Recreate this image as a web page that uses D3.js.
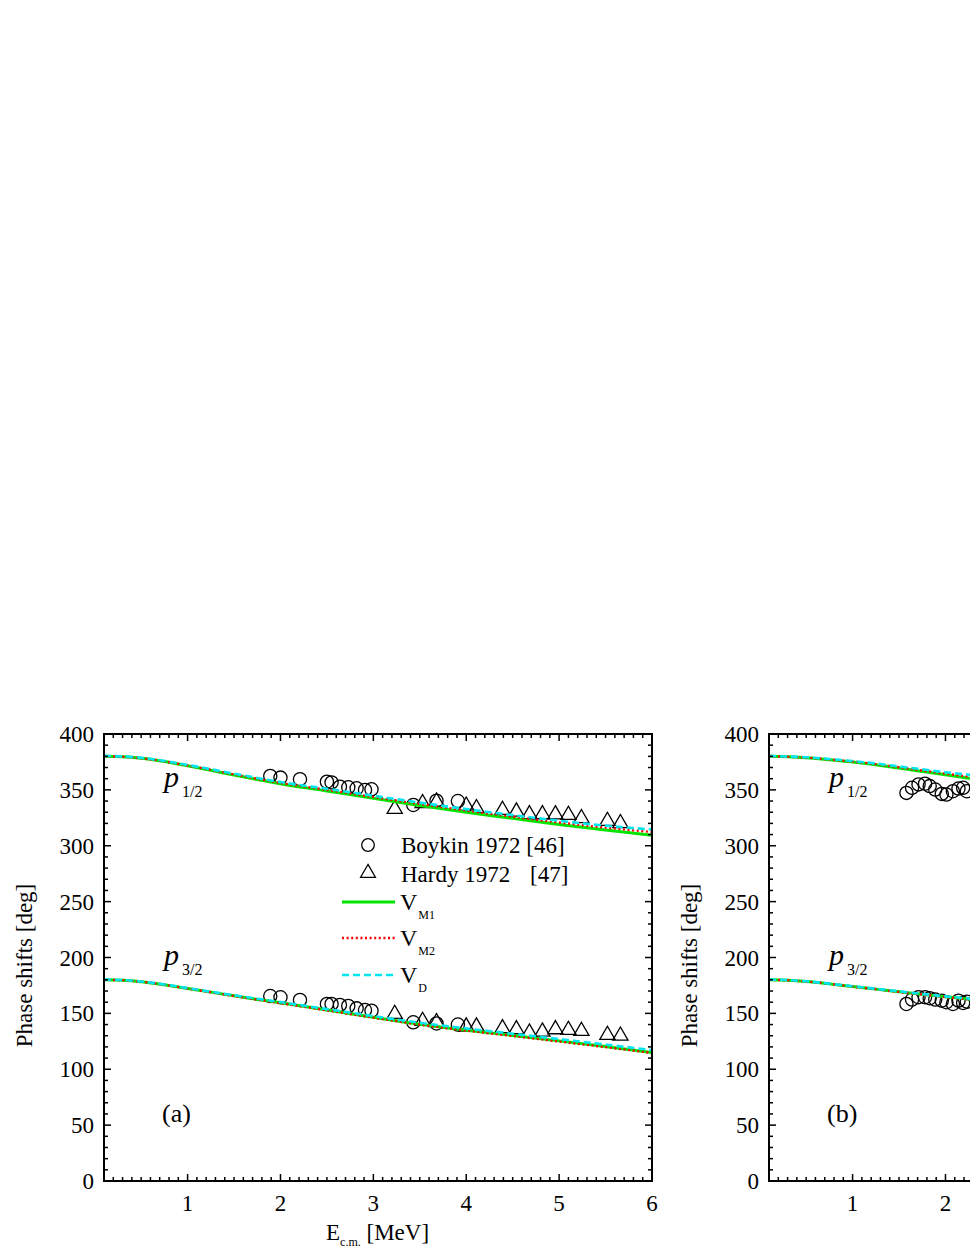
<!DOCTYPE html>
<html><head><meta charset="utf-8">
<script src="https://cdn.jsdelivr.net/npm/d3@7"></script>
<style>html,body{margin:0;padding:0;background:#fff;overflow:hidden}svg{display:block}text{font-family:"Liberation Serif","Times New Roman",serif;fill:#000}</style>
</head><body>
<svg id="chart" width="970" height="1255"></svg>
<script>
// ---------- data ----------
const xTicks = [1, 2, 3, 4, 5, 6];
const yTicks = [0, 50, 100, 150, 200, 250, 300, 350, 400];
const legendLabels = ["Boykin 1972 [46]", "Hardy 1972", "[47]", "M1", "M2", "D"];

// panel (a) model curves
const eCurveA = [0.1, 0.3, 0.5, 0.75, 1, 1.25, 1.5, 1.75, 2, 2.5, 3, 3.5, 4, 4.5, 5, 5.5, 6];
const aP12_VM1 = [380, 379.6, 378.2, 375.3, 371.5, 367.5, 363.3, 359.3, 355.5, 349, 342.5, 336, 330, 324.5, 319, 314, 309.5];
const aP12_VM2 = [380, 379.6, 378.3, 375.5, 371.8, 367.9, 363.8, 359.9, 356.2, 350, 343.6, 337.4, 331.5, 326, 320.8, 316.2, 312.3];
const aP12_VD  = [380.4, 379.9, 378.7, 375.9, 372.3, 368.5, 364.5, 360.7, 357, 351, 344.8, 338.6, 332.8, 327.4, 322.4, 318, 314.5];
const aP32_VM1 = [180, 179.6, 178.3, 175.6, 172.3, 169, 165.7, 162.5, 159.5, 153, 146.5, 140.3, 135, 130.3, 125.4, 120.3, 115];
const aP32_VM2 = [180, 179.6, 178.3, 175.6, 172.2, 168.9, 165.5, 162.3, 159.2, 152.7, 146.2, 140, 134.6, 129.8, 124.8, 119.8, 114.6];
const aP32_VD  = [180.3, 179.8, 178.5, 175.9, 172.6, 169.4, 166.2, 163.1, 160.1, 153.8, 147.6, 141.6, 136.5, 131.8, 127, 122.1, 117.2];

// panel (a) data
const boykinE    = [1.89, 2.0, 2.21, 2.50, 2.55, 2.64, 2.73, 2.82, 2.91, 2.98, 3.43, 3.68, 3.91];
const boykinP12  = [362.5, 361, 359.6, 357.3, 356.7, 352.8, 352.3, 351.4, 349.9, 350.5, 336.5, 340.3, 340];
const boykinP32  = [165.5, 164.4, 162, 158.4, 158.4, 157.5, 156.6, 154.5, 153, 152.4, 142, 141, 140];
const hardyE     = [3.23, 3.53, 3.68, 4.0, 4.11, 4.39, 4.54, 4.68, 4.82, 4.96, 5.1, 5.24, 5.52, 5.66];
const hardyP12   = [332.9, 338, 339.4, 335.8, 333.5, 332, 330.5, 328.1, 328.1, 328, 327.5, 324.6, 322.1, 320.1];
const hardyP32   = [149.4, 143.2, 142, 138.1, 138.1, 136.6, 135.7, 132.7, 133.6, 135.7, 135.1, 134.2, 130.6, 130];

// panel (b) model curves
const eCurveB = [0.1, 0.3, 0.5, 0.75, 1, 1.25, 1.5, 1.75, 2, 2.25, 2.5];
const bP12_VM1 = [380, 379.6, 378.8, 377, 375, 372.5, 369.5, 366.5, 363.5, 360.5, 357.5];
const bP12_VM2 = [380, 379.6, 378.9, 377.2, 375.3, 373, 370.2, 367.3, 364.5, 361.8, 359];
const bP12_VD  = [380.3, 379.9, 379.2, 377.6, 375.8, 373.6, 371, 368.4, 365.8, 363.6, 361.2];
const bP32_VM1 = [180, 179.6, 178.5, 176.4, 174, 171.7, 169.3, 167, 164.8, 162.8, 161];
const bP32_VM2 = [180, 179.6, 178.5, 176.4, 174, 171.6, 169.2, 166.9, 164.6, 162.6, 160.8];
const bP32_VD  = [180.2, 179.8, 178.7, 176.6, 174.3, 172, 169.7, 167.4, 165.2, 163.3, 161.5];

// panel (b) data (visible part)
const bDataE   = [1.58, 1.64, 1.71, 1.78, 1.83, 1.89, 1.96, 2.01, 2.08, 2.14, 2.19, 2.23];
const bDataP12 = [347.3, 351.9, 354.9, 355.5, 353.4, 350.3, 346.4, 345.8, 348.8, 351.2, 351.9, 348.8];
const bDataP32 = [158.4, 162.4, 164.5, 164.5, 163.6, 162.4, 161.4, 160, 158.4, 161.4, 159.3, 160.5];

// ---------- drawing ----------
const svg = d3.select("#chart");
const plotTop = 734, plotBottom = 1181, plotW = 548, viewW = 970;
const FS = 23;

const colM1 = "#00e600", colM2 = "#ff0000", colD = "#00e5f0";

function drawPanel(left, opt) {
  const x = d3.scaleLinear().domain([0.1, 6]).range([left, left + plotW]);
  const y = d3.scaleLinear().domain([0, 400]).range([plotBottom, plotTop]);
  const g = svg.append("g");
  const clipId = "clip" + opt.tag;
  svg.append("clipPath").attr("id", clipId).append("rect")
    .attr("x", left).attr("y", plotTop).attr("width", plotW).attr("height", plotBottom - plotTop);
  const pg = g.append("g").attr("clip-path", `url(#${clipId})`);

  // markers
  const circ = (E, V) => pg.append("g").selectAll("circle").data(E.map((e, i) => [e, V[i]])).join("circle")
    .attr("cx", d => x(d[0])).attr("cy", d => y(d[1])).attr("r", 6.6)
    .attr("fill", "none").attr("stroke", "#000").attr("stroke-width", 1.3);
  const tri = (E, V) => pg.append("g").selectAll("path").data(E.map((e, i) => [e, V[i]])).join("path")
    .attr("d", d3.symbol(d3.symbolTriangle, 100))
    .attr("transform", d => `translate(${x(d[0])},${y(d[1])})`)
    .attr("fill", "none").attr("stroke", "#000").attr("stroke-width", 1.3);
  opt.markers(circ, tri);

  // curves
  const line = d3.line().x(d => x(d[0])).y(d => y(d[1])).curve(d3.curveMonotoneX);
  const drawCurve = (E, V, col, w, dash) => pg.append("path")
    .attr("d", line(E.map((e, i) => [e, V[i]])))
    .attr("fill", "none").attr("stroke", col).attr("stroke-width", w)
    .attr("stroke-dasharray", dash);
  for (const c of opt.curves) {
    drawCurve(c.E, c.m1, colM1, 3, null);
    drawCurve(c.E, c.m2, colM2, 2.4, "2,2.6");
    drawCurve(c.E, c.d, colD, 2.6, "7,4");
  }

  // ticks (inward, all sides)
  const tk = g.append("g").attr("stroke", "#000").attr("stroke-width", 1.5);
  const xMinor = d3.range(2, 60).map(v => v / 10).filter(v => Math.abs(v - Math.round(v)) > 1e-6);
  const yMinor = d3.range(0, 401, 10).filter(v => v % 50 !== 0);
  xTicks.forEach(v => {
    tk.append("line").attr("x1", x(v)).attr("x2", x(v)).attr("y1", plotBottom).attr("y2", plotBottom - 7);
    tk.append("line").attr("x1", x(v)).attr("x2", x(v)).attr("y1", plotTop).attr("y2", plotTop + 7);
  });
  xMinor.forEach(v => {
    tk.append("line").attr("x1", x(v)).attr("x2", x(v)).attr("y1", plotBottom).attr("y2", plotBottom - 4);
    tk.append("line").attr("x1", x(v)).attr("x2", x(v)).attr("y1", plotTop).attr("y2", plotTop + 4);
  });
  yTicks.forEach(v => {
    tk.append("line").attr("x1", left).attr("x2", left + 7).attr("y1", y(v)).attr("y2", y(v));
    tk.append("line").attr("x1", left + plotW).attr("x2", left + plotW - 7).attr("y1", y(v)).attr("y2", y(v));
  });
  yMinor.forEach(v => {
    tk.append("line").attr("x1", left).attr("x2", left + 4).attr("y1", y(v)).attr("y2", y(v));
    tk.append("line").attr("x1", left + plotW).attr("x2", left + plotW - 4).attr("y1", y(v)).attr("y2", y(v));
  });
  // frame
  g.append("rect").attr("x", left).attr("y", plotTop).attr("width", plotW).attr("height", plotBottom - plotTop)
    .attr("fill", "none").attr("stroke", "#000").attr("stroke-width", 2);

  // tick labels (only those inside the visible window)
  g.append("g").selectAll("text").data(xTicks.filter(d => x(d) + 8 < viewW)).join("text")
    .attr("x", d => x(d)).attr("y", plotBottom + 30).attr("text-anchor", "middle")
    .attr("font-size", FS).text(d => d);
  g.append("g").selectAll("text").data(yTicks).join("text")
    .attr("x", left - 10).attr("y", d => y(d) + 8).attr("text-anchor", "end")
    .attr("font-size", FS).text(d => d);

  // axis titles
  g.append("text").attr("transform", `translate(${left - 72},${(plotTop + plotBottom) / 2 + 8}) rotate(-90)`)
    .attr("text-anchor", "middle").attr("font-size", FS).text("Phase shifts [deg]");
  if (left + 330 < viewW) {
    const xt = g.append("text").attr("x", left + 222).attr("y", plotBottom + 59).attr("font-size", FS);
    xt.append("tspan").text("E");
    xt.append("tspan").attr("font-size", 12).attr("dy", 6).text("c.m.");
    xt.append("tspan").attr("dy", -6).text(" [MeV]");
  }

  // wave labels
  const wl = (txt, sub, yb) => {
    const t = g.append("text").attr("x", left + 60).attr("y", yb).attr("font-size", 30);
    t.append("tspan").attr("font-style", "italic").text(txt);
    t.append("tspan").attr("font-size", 16).attr("dy", 10).attr("dx", 3).text(sub);
  };
  wl("p", "1/2", 787);
  wl("p", "3/2", 965);
  g.append("text").attr("x", left + 58).attr("y", 1122).attr("font-size", 26).text(opt.tag === "a" ? "(a)" : "(b)");
  return { x, y, g };
}

drawPanel(104, {
  tag: "a",
  markers: (circ, tri) => {
    circ(boykinE, boykinP12); circ(boykinE, boykinP32);
    tri(hardyE, hardyP12); tri(hardyE, hardyP32);
  },
  curves: [
    { E: eCurveA, m1: aP12_VM1, m2: aP12_VM2, d: aP12_VD },
    { E: eCurveA, m1: aP32_VM1, m2: aP32_VM2, d: aP32_VD }
  ]
});

drawPanel(769, {
  tag: "b",
  markers: (circ, tri) => { circ(bDataE, bDataP12); circ(bDataE, bDataP32); },
  curves: [
    { E: eCurveB, m1: bP12_VM1, m2: bP12_VM2, d: bP12_VD },
    { E: eCurveB, m1: bP32_VM1, m2: bP32_VM2, d: bP32_VD }
  ]
});

// legend (panel a)
const lg = svg.append("g");
lg.append("circle").attr("cx", 368).attr("cy", 845).attr("r", 6.3)
  .attr("fill", "none").attr("stroke", "#000").attr("stroke-width", 1.3);
lg.append("path").attr("d", d3.symbol(d3.symbolTriangle, 95))
  .attr("transform", "translate(368,873)").attr("fill", "none").attr("stroke", "#000").attr("stroke-width", 1.3);
lg.append("text").attr("x", 401).attr("y", 853).attr("font-size", FS).text(legendLabels[0]);
lg.append("text").attr("x", 401).attr("y", 882).attr("font-size", FS).text(legendLabels[1]);
lg.append("text").attr("x", 530).attr("y", 882).attr("font-size", FS).text(legendLabels[2]);
const legLines = [
  { col: colM1, w: 3, dash: null, y: 902, sub: legendLabels[3] },
  { col: colM2, w: 2.4, dash: "2,2.6", y: 938, sub: legendLabels[4] },
  { col: colD, w: 2.6, dash: "7,4", y: 975, sub: legendLabels[5] }
];
legLines.forEach(l => {
  lg.append("line").attr("x1", 342).attr("x2", 395).attr("y1", l.y).attr("y2", l.y)
    .attr("stroke", l.col).attr("stroke-width", l.w).attr("stroke-dasharray", l.dash);
  const t = lg.append("text").attr("x", 400).attr("y", l.y + 8).attr("font-size", FS + 1);
  t.append("tspan").text("V");
  t.append("tspan").attr("font-size", 12).attr("dy", 9).attr("dx", 1).text(l.sub);
});
</script>
</body></html>
